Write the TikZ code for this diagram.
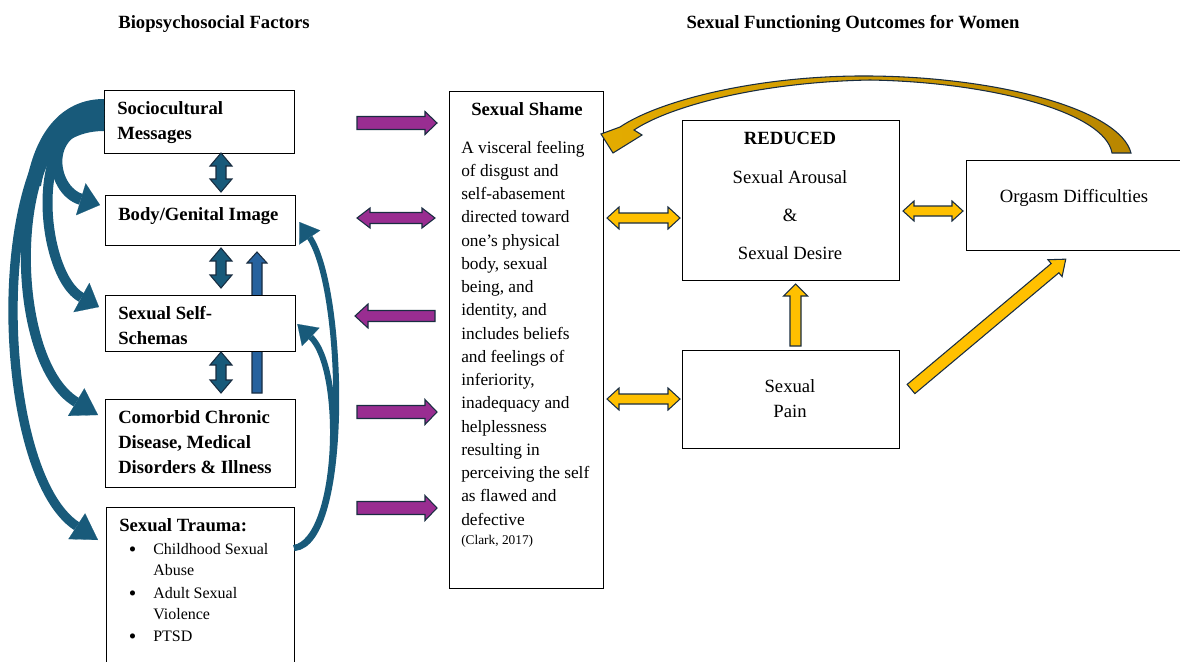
\documentclass[tikz,border=0pt]{standalone}
\usepackage{fontspec}
\setmainfont{Liberation Serif}
\usetikzlibrary{arrows.meta,calc}
\definecolor{purp}{RGB}{153,45,145}
\definecolor{outl}{RGB}{25,45,65}
\definecolor{teal1}{RGB}{24,90,122}
\definecolor{blue2}{RGB}{38,98,158}
\definecolor{yel}{RGB}{255,192,0}
\definecolor{gold1}{RGB}{228,172,0}
\definecolor{gold2}{RGB}{184,134,0}
\newcommand\myBold{\fontsize{14}{18.75}\selectfont\bfseries}
\newcommand\myReg{\fontsize{14}{18.75}\selectfont}
\newcommand\myShame{\fontsize{13}{17.44}\selectfont}
\newcommand\myList{\fontsize{12}{15.75}\selectfont}
\newcommand\myBul{\makebox[17.25pt][l]{\hspace{-1pt}\raisebox{-1.6pt}{\fontsize{16}{15.75}\selectfont\textbullet}}}
\tikzset{
  box/.style={draw=black, line width=1pt, fill=white, inner sep=0pt, anchor=north west},
  txt/.style={anchor=base west, inner sep=0pt},
  ctxt/.style={anchor=base, inner sep=0pt},
  pics/sarr/.style n args={4}{code={\path[pic actions] (0,-#2) -- (#1-#4,-#2) -- (#1-#4,-#3) -- (#1,0) -- (#1-#4,#3) -- (#1-#4,#2) -- (0,#2) -- cycle;}},
  pics/darr/.style n args={4}{code={\path[pic actions] (0,0) -- (#4,-#3) -- (#4,-#2) -- (#1-#4,-#2) -- (#1-#4,-#3) -- (#1,0) -- (#1-#4,#3) -- (#1-#4,#2) -- (#4,#2) -- (#4,#3) -- cycle;}},
  parr/.style={draw=outl, fill=purp, line width=0.8pt, line join=miter},
  tarr/.style={draw=outl, fill=teal1, line width=0.8pt},
  barr/.style={draw=outl, fill=blue2, line width=0.8pt},
  yarr/.style={draw=outl, fill=yel, line width=0.8pt},
  bcur/.style={draw=teal1, line cap=butt},
}
\begin{document}
\begin{tikzpicture}[x=0.75pt,y=-0.75pt]
\useasboundingbox (0,0) rectangle (1180,661);
\clip (0,0) rectangle (1180,661);

% single blue up arrow (behind the self-schemas box)
\pic[barr, rotate=90] at (257,393) {sarr={141}{5}{10}{11}};

% boxes
\node[box, minimum width=142.5pt, minimum height=47.25pt] (soc) at (104,90) {};
\node[box, minimum width=142.5pt, minimum height=37.5pt] (body) at (105,195) {};
\node[box, minimum width=142.5pt, minimum height=42pt] (schema) at (105,295) {};
\node[box, minimum width=142.5pt, minimum height=66pt] (comor) at (105,399) {};
\node[box, minimum width=141pt, minimum height=127.5pt] (trauma) at (106,507) {};
\node[box, minimum width=115.5pt, minimum height=372.75pt] (shame) at (449,91) {};
\node[box, minimum width=162.75pt, minimum height=120pt] (reduced) at (682,120) {};
\node[box, minimum width=168pt, minimum height=67.5pt] (orgasm) at (966,160) {};
\node[box, minimum width=162.75pt, minimum height=73.5pt] (pain) at (682,350) {};

% titles
\node[ctxt, font=\myBold] (t1) at (214,28) {Biopsychosocial Factors};
\node[ctxt, font=\myBold] (t2) at (853,28) {Sexual Functioning Outcomes for Women};

% left box texts
\node[txt, font=\myBold] (soct) at (117,114) {\parbox[t]{150pt}{Sociocultural\\Messages}};
\node[txt, font=\myBold] (bodyt) at (118,220) {Body/Genital Image};
\node[txt, font=\myBold] (scht) at (118,319) {\parbox[t]{150pt}{Sexual Self-\\Schemas}};
\node[txt, font=\myBold] (comt) at (118,423) {\parbox[t]{160pt}{Comorbid Chronic\\Disease, Medical\\Disorders \& Illness}};
\node[txt, font=\myBold] (trt) at (119,531) {Sexual Trauma:};
\node[txt, font=\myList] (tr1) at (130,554) {\parbox[t]{140pt}{\hangindent=17.25pt\hangafter=1\myBul Childhood Sexual\\Abuse}};
\node[txt, font=\myList] (tr2) at (130,598) {\parbox[t]{140pt}{\hangindent=17.25pt\hangafter=1\myBul Adult Sexual\\Violence}};
\node[txt, font=\myList] (tr3) at (130,641) {\parbox[t]{140pt}{\myBul PTSD}};

% shame texts
\node[ctxt, font=\myBold] (shamet) at (527,115) {Sexual Shame};
\node[txt, font=\myShame] (shameb) at (461,153) {\parbox[t]{140pt}{A visceral feeling\\of disgust and\\self-abasement\\directed toward\\one’s physical\\body, sexual\\being, and\\identity, and\\includes beliefs\\and feelings of\\inferiority,\\inadequacy and\\helplessness\\resulting in\\perceiving the self\\as flawed and\\defective}};
\node[txt, font=\fontsize{10}{12}\selectfont] (clark) at (461,544.5) {(Clark, 2017)};

% right texts
\node[ctxt, font=\myBold] (redt) at (790,144) {REDUCED};
\node[ctxt, font=\myReg] (arous) at (790,183) {Sexual Arousal};
\node[ctxt, font=\myReg] (amp) at (790,221) {\&};
\node[ctxt, font=\myReg] (desire) at (790,259) {Sexual Desire};
\node[ctxt, font=\myReg] (orgt) at (1074,202) {Orgasm Difficulties};
\node[ctxt, font=\myReg] (paint) at (790,392) {\parbox[t]{100pt}{\centering Sexual\\Pain}};

% curved blue arrows from sociocultural messages (common root, then branches)
\fill[teal1] ($(soc.north west)+(0,9)$) .. controls (60,99) and (34,135) .. (26,186)
  -- (41,186) .. controls (45,158) and (65,131) .. ($(soc.north west)+(0,41)$) -- cycle;
\draw[bcur, line width=7pt, -{Triangle[width=23pt,length=19pt,line width=0.1pt]}]
  ($(soc.north west)+(0,15)$) .. controls (-15,105) and (-10,470) .. ($(trauma.north west)+(-8,33)$);
\draw[bcur, line width=7.5pt, -{Triangle[width=24pt,length=19pt,line width=0.1pt]}]
  ($(soc.north west)+(0,21)$) .. controls (5,111) and (5,360) .. ($(comor.north west)+(-7,16)$);
\draw[bcur, line width=7.5pt, -{Triangle[width=25pt,length=15pt,line width=0.1pt]}]
  ($(soc.north west)+(0,27)$) .. controls (25,117) and (40,275) .. ($(schema.north west)+(-6,12)$);
\draw[bcur, line width=8.5pt, -{Triangle[width=25pt,length=15pt,line width=0.1pt]}]
  ($(soc.north west)+(0,33)$) .. controls (40,123) and (50,190) .. ($(body.north west)+(-5,10)$);

% curved blue arrows from sexual trauma
\draw[bcur, line width=4.5pt, -{Triangle[width=19pt,length=14pt,line width=0.1pt]}]
  ($(trauma.north west)+(188,41)$) .. controls (350,545) and (345,290) .. ($(body.north east)+(3,27)$);
\draw[bcur, line width=4.5pt, -{Triangle[width=19pt,length=14pt,line width=0.1pt]}]
  ($(trauma.north west)+(188,41)$) .. controls (340,540) and (345,370) .. ($(schema.north east)+(1,29)$);

% blue vertical double arrows
\pic[tarr, rotate=90] at (221,192) {darr={39}{5}{11}{13}};
\pic[tarr, rotate=90] at (221,288) {darr={40}{5}{11}{13}};
\pic[tarr, rotate=90] at (221,393) {darr={41}{5}{11}{13}};

% purple arrows
\pic[parr] at (357,123) {sarr={80}{6.5}{11.5}{12}};
\pic[parr] at (357,218) {darr={78}{5.5}{10}{13}};
\pic[parr, rotate=180] at (435,316) {sarr={80}{5.5}{12}{13}};
\pic[parr] at (357,412) {sarr={80}{6.5}{12.5}{12}};
\pic[parr] at (357,508) {sarr={80}{6.5}{12.5}{12}};

% yellow arrows
\pic[yarr] at (607,218) {darr={73}{5}{11}{12}};
\pic[yarr] at (607,399) {darr={73}{5}{11}{12}};
\pic[yarr] at (903,211) {darr={60}{5}{10}{11}};
\pic[yarr, rotate=90] at (795.5,346) {sarr={62}{5.5}{12}{12}};
\pic[yarr, rotate=40] at (911,389) {sarr={202}{6}{11}{14}};

% gold curved arrow from orgasm difficulties to sexual shame
\path[draw=outl, line width=0.8pt, left color=gold1, right color=gold2]
  (1131,153) .. controls (1120,110) and (1000,77) .. (870,76)
  .. controls (760,75) and (660,100) .. (620,127) -- (601,134) -- (613,153) -- (642,135) -- (634,130)
  .. controls (670,106) and (760,82) .. (870,80)
  .. controls (990,82) and (1105,112) .. (1112,153) -- cycle;
\end{tikzpicture}
\end{document}
